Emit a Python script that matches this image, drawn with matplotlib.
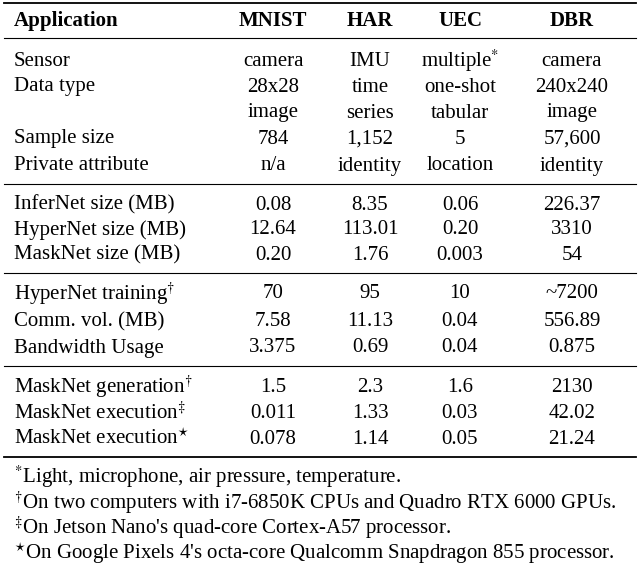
import matplotlib.pyplot as plt

plt.rcParams['font.family'] = ['Liberation Serif', 'DejaVu Serif']
plt.rcParams['mathtext.fontset'] = 'stix'

columns = ['MNIST', 'HAR', 'UEC', 'DBR']
col_x = [273, 370, 460, 572]

groups = [
    [('Sensor', ['camera', 'IMU', 'multiple$^{*}$', 'camera']),
     ('Data type', ['28x28', 'time', 'one-shot', '240x240']),
     ('', ['image', 'series', 'tabular', 'image']),
     ('Sample size', ['784', '1,152', '5', '57,600']),
     ('Private attribute', ['n/a', 'identity', 'location', 'identity'])],
    [('InferNet size (MB)', ['0.08', '8.35', '0.06', '226.37']),
     ('HyperNet size (MB)', ['12.64', '113.01', '0.20', '3310']),
     ('MaskNet size (MB)', ['0.20', '1.76', '0.003', '54'])],
    [('HyperNet training$^{\\dagger}$', ['70', '95', '10', '~7200']),
     ('Comm. vol. (MB)', ['7.58', '11.13', '0.04', '556.89']),
     ('Bandwidth Usage', ['3.375', '0.69', '0.04', '0.875'])],
    [('MaskNet generation$^{\\dagger}$', ['1.5', '2.3', '1.6', '2130']),
     ('MaskNet execution$^{\\ddagger}$', ['0.011', '1.33', '0.03', '42.02']),
     ('MaskNet execution$^{\\star}$', ['0.078', '1.14', '0.05', '21.24'])],
]
footnotes = ['$^{*}$Light, microphone, air pressure, temperature.',
             '$^{\\dagger}$On two computers with i7-6850K CPUs and Quadro RTX 6000 GPUs.',
             '$^{\\ddagger}$On Jetson Nano\'s quad-core Cortex-A57 processor.',
             '$^{\\star}$On Google Pixels 4\'s octa-core Qualcomm Snapdragon 855 processor.']

W, H = 640, 565
fig = plt.figure(figsize=(W / 100, H / 100), dpi=100)
ax = fig.add_axes([0, 0, 1, 1])
ax.set_xlim(0, W)
ax.set_ylim(H, 0)
ax.axis('off')
fs = 15

def hline(y, lw):
    ax.plot([4, 636], [y, y], color='black', lw=lw)

hline(3, 1.3)
ax.text(14, 21, 'Application', fontsize=fs, fontweight='bold', va='center')
for c, x in zip(columns, col_x):
    ax.text(x, 21, c, fontsize=fs, fontweight='bold', va='center', ha='center')
hline(38, 0.8)

group_y = [[61, 87, 113, 139, 166], [205, 230, 255], [294, 322, 348], [387, 413, 439]]
sep_y = [184, 273, 366]
for gi, (rows, ys) in enumerate(zip(groups, group_y)):
    for (label, vals), y in zip(rows, ys):
        ax.text(14, y, label, fontsize=fs, va='center')
        for v, x in zip(vals, col_x):
            ax.text(x, y, v, fontsize=fs, va='center', ha='center')
    if gi < len(sep_y):
        hline(sep_y[gi], 0.8)
hline(457, 1.3)

for i, f in enumerate(footnotes):
    ax.text(14, 477 + 25.5 * i, f, fontsize=fs, va='center')

fig.savefig('out.png', dpi=100)
